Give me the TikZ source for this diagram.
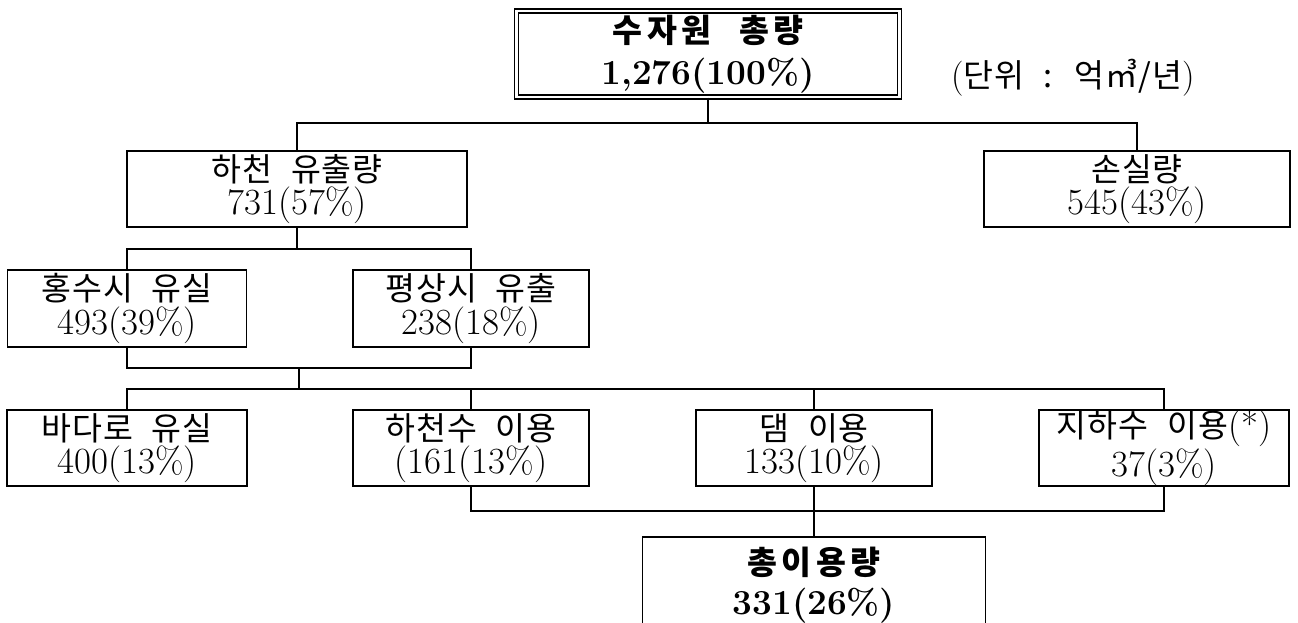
\documentclass[tikz,border=0pt]{standalone}
\usepackage{fontspec}
\newfontfamily\kr[WordSpace=2.3, LetterSpace=3]{Noto Sans CJK KR}
\newcommand{\hg}[1]{{\kr\fontsize{18.5}{19}\selectfont #1}}
\newcommand{\hgw}[1]{{\kr\addfontfeature{LetterSpace=14}\fontsize{18.5}{19}\selectfont #1}}

\tikzset{
  box/.style={draw, line width=1pt, align=center, inner sep=0pt,
    minimum height=1.53cm, font=\fontsize{21}{19}\selectfont},
  link/.style={line width=0.8pt},
}

\begin{document}
\begin{tikzpicture}[x=0.02cm, y=-0.02cm]
  \clip (0,0) rectangle (1298,622);
  \node[box, double, line width=0.8pt, double distance=1.3pt, minimum width=7.66cm, minimum height=1.72cm,
    font=\fontsize{20}{24}\selectfont\bfseries] (total) at (708,54) {\hgw{수자원 총량}\\1,276(100\%)};
  \node[anchor=west, font=\fontsize{20}{19}\selectfont] (unit) at (945,78) {(\hg{단위 : 억㎥/년})};
  \node[box, minimum width=6.8cm] (river) at (297,189) {\hg{하천 유출량}\\731(57\%)};
  \node[box, minimum width=6.12cm] (loss) at (1137,189) {\hg{손실량}\\545(43\%)};
  \node[box, minimum width=4.78cm] (flood) at (127,308.5) {\hg{홍수시 유실}\\493(39\%)};
  \node[box, minimum width=4.72cm] (normal) at (471,308.5) {\hg{평상시 유출}\\238(18\%)};
  \node[box, minimum width=4.8cm] (sea) at (127,448) {\hg{바다로 유실}\\400(13\%)};
  \node[box, minimum width=4.72cm] (stream) at (471,448) {\hg{하천수 이용}\\(161(13\%)};
  \node[box, minimum width=4.72cm] (dam) at (814,448) {\hg{댐 이용}\\133(10\%)};
  \node[box, minimum width=5cm] (ground) at (1164,448) {\hg{지하수 이용}(*)\\37(3\%)};
  \node[box, minimum width=6.86cm, minimum height=1.92cm,
    font=\fontsize{20}{23}\selectfont\bfseries] (usage) at (814,585) {\hgw{총이용량}\\331(26\%)};

  \coordinate (b1) at (708,123);
  \coordinate (b2) at (297,249);
  \coordinate (b3) at (299,368);
  \coordinate (b4) at (299,389);
  \coordinate (b5) at (814,511);

  \draw[link] (total.south) -- (b1);
  \draw[link] (river.north) |- (b1) -| (loss.north);
  \draw[link] (river.south) -- (b2);
  \draw[link] (flood.north) |- (b2) -| (normal.north);
  \draw[link] (flood.south) |- (b3) -| (normal.south);
  \draw[link] (b3) -- (b4);
  \draw[link] (sea.north) |- (b4) -| (ground.north);
  \draw[link] (stream.north) -- (stream.north |- b4);
  \draw[link] (dam.north) -- (dam.north |- b4);
  \draw[link] (stream.south) |- (b5) -| (ground.south);
  \draw[link] (dam.south) -- (usage.north);
\end{tikzpicture}
\end{document}
